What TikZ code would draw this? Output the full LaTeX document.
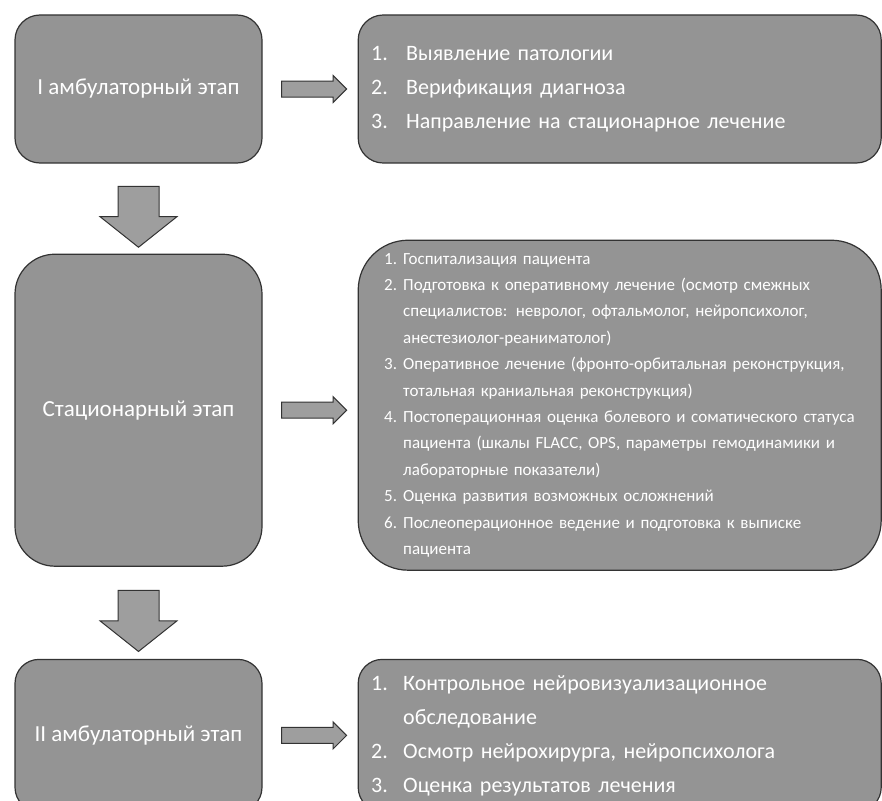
\documentclass[tikz,border=0pt]{standalone}
\usepackage{fontspec}
\setmainfont{Carlito}
\usetikzlibrary{positioning,shapes.arrows,calc}

\newcommand{\itm}[2]{\makebox[#1][l]{#2}}

\begin{document}
\begin{tikzpicture}[x=1pt, y=-1pt,
  stage/.style = {draw=black!80, line width=1.2pt, fill=black!42, text=white,
                  minimum width=247pt, font=\fontsize{23}{27}\selectfont},
  list/.style = {draw=black!80, line width=1.2pt, fill=black!42, text=white,
                 minimum width=523pt, text width=497pt, inner xsep=13pt, inner ysep=2pt, align=left},
  rarr/.style = {single arrow, draw=black!80, fill=black!38, line width=1pt,
                 minimum height=65pt, inner sep=7.5pt, single arrow head extend=5.5pt,
                 single arrow tip angle=90},
  darr/.style = {single arrow, shape border rotate=270, draw=black!80, fill=black!38,
                 line width=1pt, minimum height=61pt, inner sep=20pt,
                 single arrow head extend=18pt, single arrow tip angle=103}]
\useasboundingbox (0,0) rectangle (882,800);

\node[stage, minimum height=148pt, rounded corners=25pt] (1) at (138.5,89) {I амбулаторный этап};
\node[stage, minimum height=312pt, rounded corners=40pt] (2) [below=90pt of 1] {Стационарный этап};
\node[stage, minimum height=152pt, rounded corners=24pt] (3) [below=92pt of 2] {II амбулаторный этап};

\node[list, minimum height=148pt, rounded corners=25pt, font=\fontsize{22}{34}\selectfont]
  (4) [right=95pt of 1] {\itm{35pt}{1.}Выявление патологии\\
  \itm{35pt}{2.}Верификация диагноза\\
  \itm{35pt}{3.}Направление на стационарное лечение};
\node[list, minimum height=330pt, rounded corners=50pt, inner xsep=26pt, text width=471pt,
      font=\fontsize{17}{26.4}\selectfont]
  (5) [right=95pt of 2, yshift=5pt] {\itm{19pt}{1.}Госпитализация пациента\\
  \itm{19pt}{2.}Подготовка к оперативному лечение (осмотр смежных\\
  \itm{19pt}{}специалистов: невролог, офтальмолог, нейропсихолог,\\
  \itm{19pt}{}анестезиолог-реаниматолог)\\
  \itm{19pt}{3.}Оперативное лечение (фронто-орбитальная реконструкция,\\
  \itm{19pt}{}тотальная краниальная реконструкция)\\
  \itm{19pt}{4.}Постоперационная оценка болевого и соматического статуса\\
  \itm{19pt}{}пациента (шкалы FLACC, OPS, параметры гемодинамики и\\
  \itm{19pt}{}лабораторные показатели)\\
  \itm{19pt}{5.}Оценка развития возможных осложнений\\
  \itm{19pt}{6.}Послеоперационное ведение и подготовка к выписке\\
  \itm{19pt}{}пациента};
\node[list, minimum height=152pt, rounded corners=24pt, font=\fontsize{22}{34}\selectfont]
  (6) [right=95pt of 3] {\itm{32pt}{1.}Контрольное нейровизуализационное\\
  \itm{32pt}{}обследование\\
  \itm{32pt}{2.}Осмотр нейрохирурга, нейропсихолога\\
  \itm{32pt}{3.}Оценка результатов лечения};

\node[darr] at ($(1.south)!0.5!(2.north)$) {};
\node[darr] at ($(2.south)!0.5!(3.north)$) {};
\node[rarr] at ($(1.east)!0.5!(4.west |- 1.east)$) {};
\node[rarr] at ($(2.east)!0.5!(5.west |- 2.east)$) {};
\node[rarr] at ($(3.east)!0.5!(6.west |- 3.east)$) {};
\end{tikzpicture}
\end{document}
